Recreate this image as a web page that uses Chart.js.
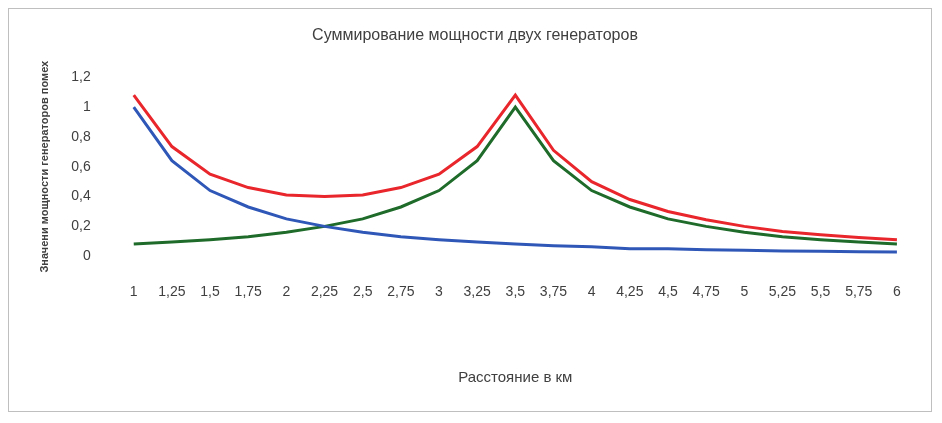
<!DOCTYPE html>
<html>
<head>
<meta charset="utf-8">
<script src="https://cdn.jsdelivr.net/npm/chart.js@4/dist/chart.umd.min.js"></script>
<style>
  body { margin: 0; background: #fff; }
  .frame { position: absolute; left: 8px; top: 8px; width: 924px; height: 404px; border: 1px solid #bfbfbf; box-sizing: border-box; }
  canvas { position: absolute; left: 0; top: 0; }
</style>
</head>
<body>
<div class="frame"></div>
<canvas id="chart" width="942" height="423"></canvas>
<script>
const distances = ['1', '1,25', '1,5', '1,75', '2', '2,25', '2,5', '2,75', '3', '3,25', '3,5',
  '3,75', '4', '4,25', '4,5', '4,75', '5', '5,25', '5,5', '5,75', '6']
const firstGen = [1.0, 0.64, 0.44, 0.33, 0.25, 0.2, 0.16, 0.13, 0.11, 0.095, 0.082,
  0.07, 0.063, 0.05, 0.05, 0.044, 0.04, 0.035, 0.033, 0.03, 0.028]
const secondGen = [0.082, 0.095, 0.11, 0.13, 0.16, 0.2, 0.25, 0.33, 0.44, 0.64, 1.0,
  0.64, 0.44, 0.33, 0.25, 0.2, 0.16, 0.13, 0.11, 0.095, 0.082]
const total = [1.08, 0.735, 0.55, 0.46, 0.41, 0.4, 0.41, 0.46, 0.55, 0.735, 1.08,
  0.71, 0.5, 0.38, 0.3, 0.244, 0.2, 0.165, 0.143, 0.125, 0.11]

const font = 'Liberation Sans, Arial, sans-serif'
const line = (data, color) => ({ data, borderColor: color, borderWidth: 3, pointRadius: 0, tension: 0 })

new Chart(document.getElementById('chart'), {
  type: 'line',
  data: {
    labels: distances,
    datasets: [line(firstGen, '#2f57b8'), line(secondGen, '#1e6b2a'), line(total, '#e8262b')]
  },
  options: {
    responsive: false,
    animation: false,
    layout: { padding: { left: 34, right: 26, top: 26, bottom: 32 } },
    plugins: {
      legend: { display: false },
      tooltip: { enabled: false },
      title: { display: true, text: 'Суммирование мощности двух генераторов', color: '#404040', font: { family: font, size: 16, weight: 'normal' }, padding: { bottom: 32 } }
    },
    scales: {
      x: {
        offset: true,
        grid: { display: false },
        border: { display: false },
        ticks: { color: '#404040', font: { family: font, size: 14 }, padding: 20, maxRotation: 0 },
        title: { display: true, text: 'Расстояние в км', color: '#404040', font: { family: font, size: 15 }, padding: { top: 48 } }
      },
      y: {
        min: 0, max: 1.2,
        grid: { display: false },
        border: { display: false },
        ticks: { stepSize: 0.2, color: '#404040', font: { family: font, size: 14 }, padding: 16,
          callback: v => v.toFixed(1).replace(/\.0$/, '').replace('.', ',') },
        title: { display: true, text: 'Значени мощности генераторов помех', color: '#404040', font: { family: font, size: 11, weight: 'bold' } }
      }
    }
  }
})
</script>
</body>
</html>
